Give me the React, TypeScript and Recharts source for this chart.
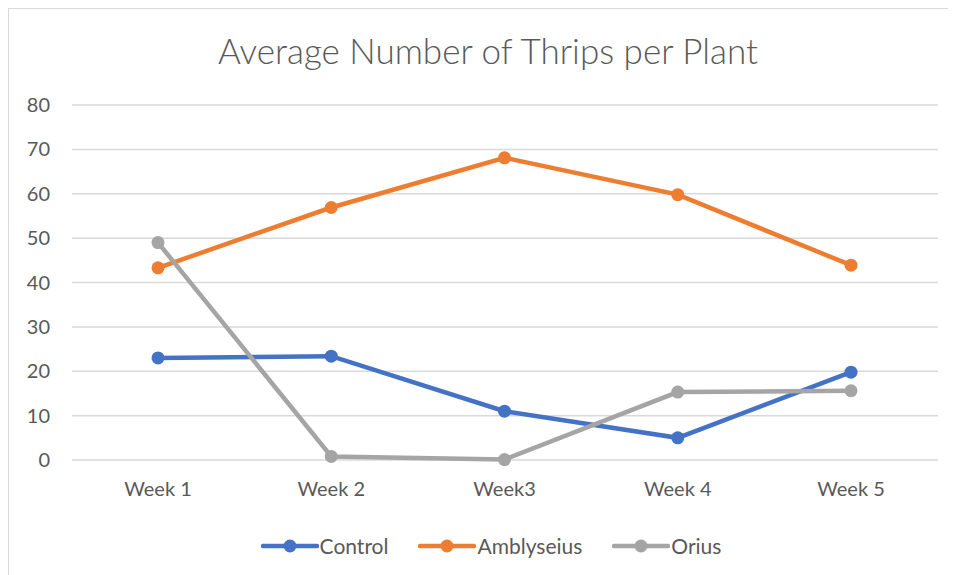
import { LineChart, Line, XAxis, YAxis, CartesianGrid } from 'recharts'

const weeks = ['Week 1', 'Week 2', 'Week3', 'Week 4', 'Week 5']
const control = [23.0, 23.4, 11.0, 5.0, 19.8]
const amblyseius = [43.3, 56.9, 68.1, 59.8, 43.9]
const orius = [49.0, 0.8, 0.1, 15.3, 15.6]
const yTicks = [0, 10, 20, 30, 40, 50, 60, 70, 80]

const series = [
  { key: 'Control', color: '#4472C4' },
  { key: 'Amblyseius', color: '#ED7D31' },
  { key: 'Orius', color: '#A5A5A5' },
]

const data = weeks.map((week, i) => ({
  week,
  Control: control[i],
  Amblyseius: amblyseius[i],
  Orius: orius[i],
}))

const font = 'Lato, "Open Sans", sans-serif'

function LegendRow() {
  return (
    <div style={{ position: 'absolute', top: 524, left: 0, width: 970, paddingRight: 6, boxSizing: 'border-box', display: 'flex', justifyContent: 'center', gap: 30, fontFamily: font, fontSize: 21, color: '#595959' }}>
      {series.map(s => (
        <div key={s.key} style={{ display: 'flex', alignItems: 'center' }}>
          <svg width={58} height={16}>
            <line x1={2} y1={8} x2={56} y2={8} stroke={s.color} strokeWidth={4.5} strokeLinecap="round" />
            <circle cx={29} cy={8} r={6.5} fill={s.color} />
          </svg>
          <span style={{ marginLeft: 1 }}>{s.key}</span>
        </div>
      ))}
    </div>
  )
}

export default function App() {
  return (
    <div style={{ position: 'relative', width: 940, height: 580, borderTop: '1px solid #d9d9d9', borderLeft: '1px solid #d9d9d9', boxSizing: 'border-box', background: '#fff' }}>
      <div style={{ position: 'absolute', top: 20, left: 0, width: 970, paddingRight: 12, boxSizing: 'border-box', textAlign: 'center', fontFamily: font, fontWeight: 300, fontSize: 35, color: '#595959' }}>
        Average Number of Thrips per Plant
      </div>
      <LineChart width={958} height={566} data={data} margin={{ top: 96, right: 29, bottom: 85, left: 0 }}>
        <CartesianGrid vertical={false} stroke="#d9d9d9" strokeWidth={1.5} />
        <XAxis
          dataKey="week"
          axisLine={false}
          tickLine={false}
          padding={{ left: 86, right: 87 }}
          tick={{ fontSize: 20, fill: '#595959', fontFamily: font }}
          tickMargin={16}
        />
        <YAxis
          width={63}
          domain={[0, 80]}
          ticks={yTicks}
          axisLine={false}
          tickLine={false}
          tick={{ fontSize: 20, fill: '#595959', fontFamily: font }}
          tickMargin={16}
        />
        {series.map(s => (
          <Line key={s.key} dataKey={s.key} stroke={s.color} strokeWidth={4.5} dot={{ r: 6.5, fill: s.color, strokeWidth: 0 }} isAnimationActive={false} />
        ))}
      </LineChart>
      <LegendRow />
    </div>
  )
}
